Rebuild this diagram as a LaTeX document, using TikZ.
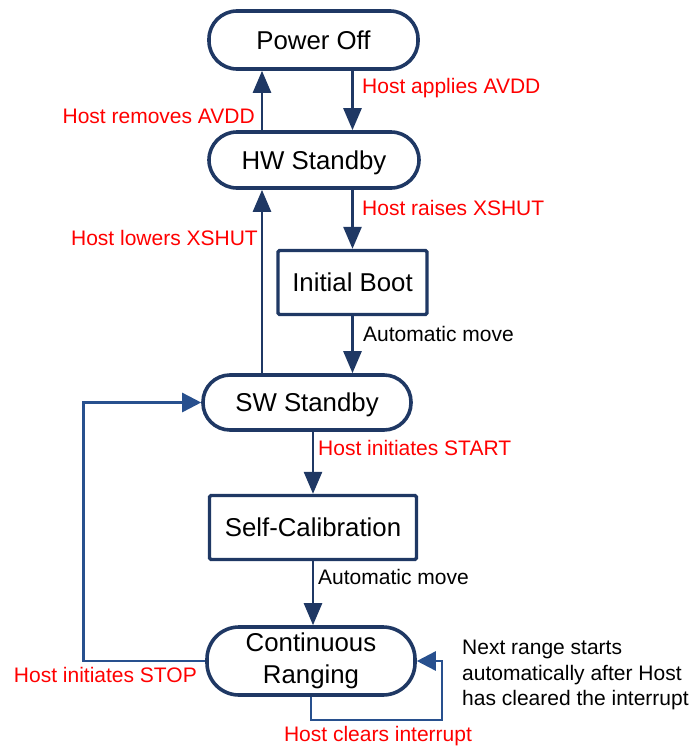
\documentclass[tikz,border=0pt]{standalone}
\usepackage{fontspec}
\setmainfont{Liberation Sans}
\usetikzlibrary{arrows.meta}
\definecolor{navy}{RGB}{31,56,100}
\definecolor{loopblue}{RGB}{40,80,142}
\definecolor{lblred}{RGB}{255,0,0}
\newcommand\bigfont{\fontsize{25.8}{32}\selectfont}
\newcommand\smallfont{\fontsize{21}{25.5}\selectfont}
\begin{document}
\begin{tikzpicture}[x=1pt,y=-1pt,
  pill/.style={draw=navy, line width=3.6pt, rounded corners=28pt, fill=white,
    font=\bigfont, inner sep=0pt, align=center},
  boxrect/.style={draw=navy, line width=3.3pt, rounded corners=1.5pt, fill=white,
    font=\bigfont, inner sep=0pt, align=center},
  oneline/.style={text height=18.5pt, text depth=0pt},
  conn/.style={draw=navy, line width=2.6pt, -{Triangle[length=22pt,width=18pt]}},
  conn2/.style={draw=loopblue, line width=2.6pt, -{Triangle[length=19pt,width=19pt]}},
  lbl/.style={text=lblred, font=\smallfont, inner sep=0pt},
  blk/.style={text=black, font=\smallfont, inner sep=0pt}]
\useasboundingbox (0,0) rectangle (694,747);

\node[pill, oneline, minimum width=209pt, minimum height=58pt] (poweroff) at (313.5,40) {Power Off};
\node[pill, oneline, minimum width=210pt, minimum height=56pt] (hwstandby) at (314,160) {HW Standby};
\node[boxrect, oneline, minimum width=149pt, minimum height=64pt] (initboot) at (352.5,282.5) {Initial Boot};
\node[pill, oneline, minimum width=208pt, minimum height=55pt, rounded corners=27pt] (swstandby) at (307,402.5) {SW Standby};
\node[boxrect, oneline, minimum width=207pt, minimum height=64pt] (selfcal) at (313,527.5) {Self-Calibration};
\node[pill, minimum width=208pt, minimum height=68pt, rounded corners=32pt] (contrang) at (311,661) {Continuous\\Ranging};

\coordinate (xL) at (262,0);
\coordinate (xR) at (352.5,0);
\coordinate (xS) at (313,0);
\coordinate (loopc) at (442,661);

\draw[conn] (hwstandby.north -| xL) -- (poweroff.south -| xL);
\draw[conn] (poweroff.south -| xR) -- (hwstandby.north -| xR);
\draw[conn] (hwstandby.south -| xR) -- (initboot.north);
\draw[conn] (initboot.south) -- (swstandby.north -| initboot);
\draw[conn] (swstandby.north -| xL) -- (hwstandby.south -| xL);
\draw[conn] (swstandby.south -| xS) -- (selfcal.north);
\draw[conn] (selfcal.south) -- (contrang.north -| xS);
\draw[conn2] (contrang.west) -- ++(-122,0) |- (swstandby.west);
\draw[conn2] (contrang.south) -- ++(0,23) -| (loopc) -- (contrang.east);

\node[lbl, anchor=base east] (l1) at (255,123) {Host removes AVDD};
\node[lbl, anchor=base west] (l2) at (362,93) {Host applies AVDD};
\node[lbl, anchor=base west] (l3) at (362,215) {Host raises XSHUT};
\node[lbl, anchor=base east] (l4) at (258,245) {Host lowers XSHUT};
\node[blk, anchor=base west] (l5) at (363,341) {Automatic move};
\node[lbl, anchor=base west] (l6) at (318,455) {Host initiates START};
\node[blk, anchor=base west] (l7) at (318,584) {Automatic move};
\node[lbl, anchor=base east] (l8) at (197,682) {Host initiates STOP};
\node[lbl, anchor=base] (l9) at (378,741) {Host clears interrupt};
\node[blk, anchor=north west, align=left] (l10) at (462,640) {Next range starts\\automatically after Host\\has cleared the interrupt};
\end{tikzpicture}
\end{document}
